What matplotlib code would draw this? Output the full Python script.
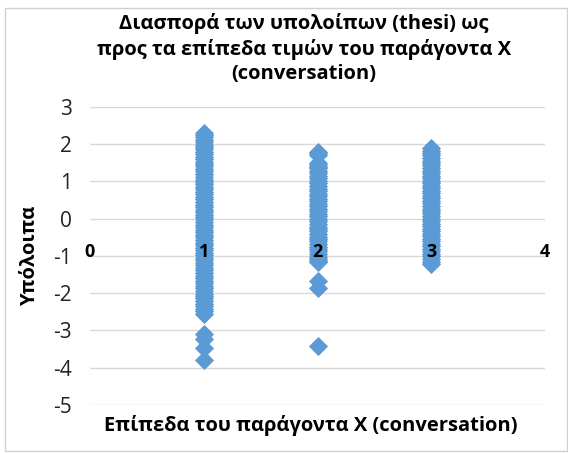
import matplotlib
matplotlib.use("Agg")
import matplotlib.pyplot as plt
from matplotlib.patches import Rectangle

plt.rcParams["font.family"] = ["Open Sans", "DejaVu Sans"]
plt.rcParams["axes.unicode_minus"] = False

# residuals, one list per level of X
levels = [1, 2, 3]
res_1 = [2.31, 2.25, 2.18, 2.11, 2.05, 1.98, 1.92, 1.86, 1.80, 1.73, 1.66,
         1.59, 1.52, 1.47, 1.41, 1.34, 1.27, 1.20, 1.13, 1.05, 0.98, 0.92,
         0.86, 0.79, 0.72, 0.66, 0.59, 0.52, 0.45, 0.38, 0.31, 0.24, 0.18,
         0.11, 0.04, -0.02, -0.09, -0.16, -0.23, -0.30, -0.37, -0.43, -0.50,
         -0.57, -0.64, -0.71, -0.78, -0.84, -0.91, -0.98, -1.05, -1.12, -1.19,
         -1.25, -1.32, -1.39, -1.46, -1.53, -1.60, -1.66, -1.73, -1.80, -1.87,
         -1.94, -2.01, -2.07, -2.14, -2.21, -2.28, -2.35, -2.42, -2.48, -2.55,
         -3.10, -3.22, -3.47, -3.79]
res_2 = [1.80, 1.76, 1.72, 1.50, 1.45, 1.40, 1.35, 1.28, 1.22, 1.15, 1.08,
         1.02, 0.95, 0.88, 0.81, 0.74, 0.67, 0.60, 0.54, 0.47, 0.40, 0.33,
         0.27, 0.20, 0.13, 0.06, 0.00, -0.07, -0.14, -0.21, -0.28, -0.34,
         -0.41, -0.48, -0.55, -0.61, -0.68, -0.75, -0.82, -0.88, -0.95, -1.02,
         -1.08, -1.13, -1.16, -1.66, -1.85, -3.43]
res_3 = [1.90, 1.83, 1.76, 1.70, 1.63, 1.56, 1.49, 1.43, 1.36, 1.29, 1.22,
         1.15, 1.09, 1.02, 0.95, 0.88, 0.82, 0.75, 0.68, 0.61, 0.55, 0.48,
         0.41, 0.34, 0.27, 0.21, 0.14, 0.07, 0.00, -0.06, -0.13, -0.20, -0.27,
         -0.33, -0.40, -0.47, -0.54, -0.61, -0.68, -0.74, -0.81, -0.88, -0.95,
         -1.01, -1.08, -1.15, -1.22]
residuals = [res_1, res_2, res_3]

x_ticks = [0, 1, 2, 3, 4]
y_ticks = [-5, -4, -3, -2, -1, 0, 1, 2, 3]

title = "Διασπορά των υπολοίπων (thesi) ως\nπρος τα επίπεδα τιμών του παράγοντα X\n(conversation)"
xlabel = "Επίπεδα του παράγοντα X (conversation)"
ylabel = "Υπόλοιπα"

blue = "#5B9BD5"
grid_col = "#D9D9D9"

fig = plt.figure(figsize=(5.68, 4.53), dpi=100)
fig.patches.append(Rectangle((0.008, 0.005), 0.99, 0.978, transform=fig.transFigure,
                             fill=False, edgecolor="#D0D0D0", lw=1))
ax = fig.add_axes([0.158, 0.106, 0.802, 0.658])

for lvl, res in zip(levels, residuals):
    ax.plot([lvl] * len(res), res, linestyle="none", marker="D", ms=9.5,
            color=blue, mec=blue, mew=0.6, zorder=2)

ax.set_xlim(0, 4)
ax.set_ylim(-5, 3)
ax.set_yticks(y_ticks)
ax.set_xticks(x_ticks)

for side in ["top", "right", "left"]:
    ax.spines[side].set_visible(False)
ax.spines["bottom"].set_position(("data", -1))
ax.spines["bottom"].set_color(grid_col)
ax.spines["bottom"].set_zorder(0.6)

ax.grid(axis="y", color=grid_col, lw=1)
ax.yaxis.set_zorder(0.5)
ax.xaxis.set_zorder(3)

ax.tick_params(axis="y", length=0, pad=13, labelsize=15, labelcolor="#222222")
ax.tick_params(axis="x", length=0, pad=-9, labelsize=13)
for lab in ax.get_xticklabels():
    lab.set_fontweight("bold")

ax.set_title(title, fontsize=14.5, fontweight="bold", linespacing=1.3, pad=20, x=0.47)
ax.set_xlabel(xlabel, fontsize=14.5, fontweight="bold")
ax.xaxis.set_label_coords(0.485, -0.035)
ax.set_ylabel(ylabel, fontsize=14.5, fontweight="bold")
ax.yaxis.set_label_coords(-0.11, 0.50)

fig.savefig("out.png", dpi=100)
